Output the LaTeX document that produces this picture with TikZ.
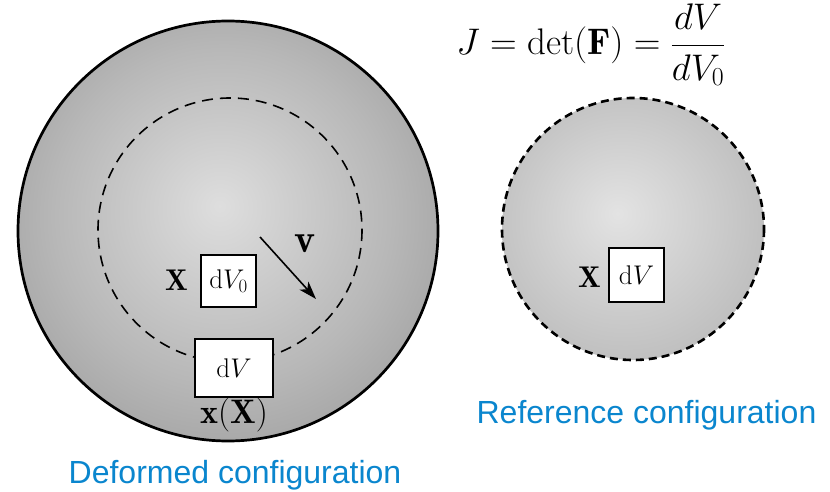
\RequirePackage{fix-cm}
\documentclass[tikz,border=0pt]{standalone}
\usepackage{fontspec}
\newfontfamily\labelsans{Liberation Sans}
\usetikzlibrary{arrows.meta}
\definecolor{capblue}{RGB}{10,134,206}
\pgfdeclareradialshading{leftball}{\pgfpoint{-1bp}{3bp}}{rgb(0bp)=(0.87,0.87,0.87); rgb(20bp)=(0.72,0.72,0.72); rgb(50bp)=(0.46,0.46,0.46)}
\pgfdeclareradialshading{rightball}{\pgfpoint{-3bp}{3bp}}{rgb(0bp)=(0.89,0.89,0.89); rgb(50bp)=(0.63,0.63,0.63)}
\tikzset{
  mathlbl/.style={inner sep=0pt, font=\fontsize{30}{34}\selectfont},
  volbox/.style={draw=black, fill=white, line width=2.6pt, inner sep=0pt, font=\fontsize{27}{32}\selectfont},
  caption/.style={inner sep=0pt, text=capblue, font=\labelsans\fontsize{32}{36}\selectfont}
}
\begin{document}
\begin{tikzpicture}[x=1pt,y=-1pt]
\useasboundingbox (0,0) rectangle (830,492);
% deformed configuration
\shade[shading=leftball] (228,231) circle[radius=210];
\draw[line width=2.7pt] (228,231) circle[radius=210];
\draw[line width=1.6pt, dash pattern=on 11pt off 7pt] (230,230) circle[radius=132];
\node[volbox, minimum width=55pt, minimum height=52pt] (dv0) at (228.5,281) {$\mathrm{d}V_0$};
\node[mathlbl, anchor=east] (Xa) at (188,280) {$\mathbf{X}$};
\coordinate (vs) at (260,237);
\coordinate (ve) at (316,299);
\draw[line width=1.6pt, -{Stealth[length=18pt,width=12pt,inset=5pt]}] (vs) -- (ve);
\node[mathlbl, font=\fontsize{40}{44}\selectfont] (V) at (305,244) {$\mathbf{v}$};
\node[volbox, minimum width=78pt, minimum height=58pt] (dv) at (234,368) {$\mathrm{d}V$};
\node[mathlbl, font=\fontsize{34}{38}\selectfont] (xX) at (234,415) {$\mathbf{x}(\mathbf{X})$};
\node[caption] (cap1) at (235,475) {Deformed configuration};
% reference configuration
\shade[shading=rightball] (633,229) circle[radius=131];
\draw[line width=2.6pt, dash pattern=on 8pt off 5pt] (633,229) circle[radius=131];
\node[volbox, minimum width=55pt, minimum height=54pt] (dvr) at (636.5,275) {$\mathrm{d}V$};
\node[mathlbl, anchor=east] (Xb) at (601,277) {$\mathbf{X}$};
\node[caption] (cap2) at (646.5,415) {Reference configuration};
% equation
\node[inner sep=0pt, font=\fontsize{37}{42}\selectfont] (eq) at (591,45) {$J=\det(\mathbf{F})=\displaystyle\frac{dV}{dV_0}$};
\end{tikzpicture}
\end{document}
